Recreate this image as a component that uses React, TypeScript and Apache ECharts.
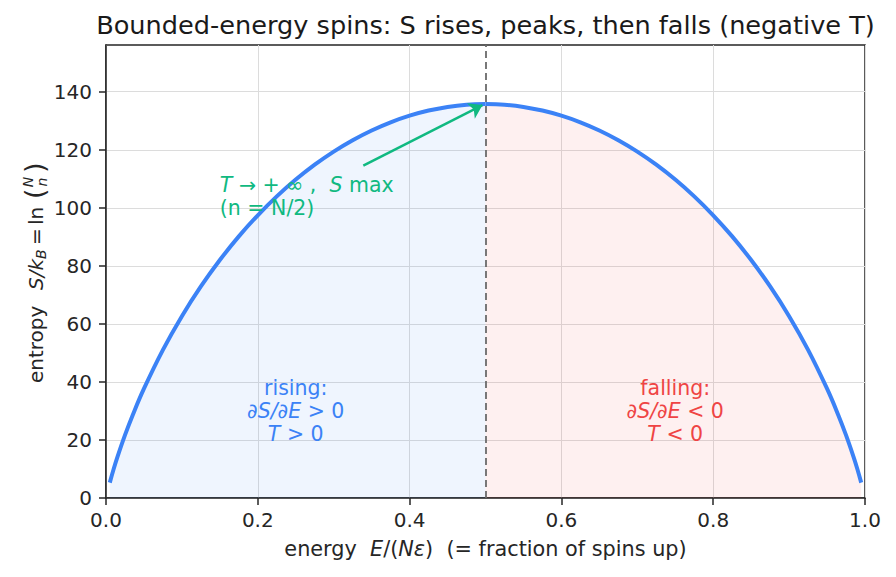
import React, { useEffect, useRef } from "react";
import * as echarts from "echarts";

// energy E/(N eps) = fraction of spins up; entropy S/k_B
const energyLeft = [0.005, 0.01, 0.015, 0.025, 0.035, 0.05, 0.075, 0.1, 0.125, 0.15, 0.175, 0.2, 0.225, 0.25, 0.275, 0.3, 0.325, 0.35, 0.375, 0.4, 0.425, 0.45, 0.475, 0.5];
const entropyLeft = [5.3, 9.9, 14.09, 21.65, 28.46, 37.66, 51.04, 62.65, 72.89, 82.0, 90.15, 97.43, 103.94, 109.74, 114.87, 119.38, 123.3, 126.66, 129.47, 131.75, 133.51, 134.76, 135.51, 135.75];
const energyRight = [0.5, 0.525, 0.55, 0.575, 0.6, 0.625, 0.65, 0.675, 0.7, 0.725, 0.75, 0.775, 0.8, 0.825, 0.85, 0.875, 0.9, 0.925, 0.95, 0.965, 0.975, 0.985, 0.99, 0.995];
const entropyRight = [135.75, 135.51, 134.76, 133.51, 131.75, 129.47, 126.66, 123.3, 119.38, 114.87, 109.74, 103.94, 97.43, 90.15, 82.0, 72.89, 62.65, 51.04, 37.66, 28.46, 21.65, 14.09, 9.9, 5.3];

const xTicks = [0, 0.2, 0.4, 0.6, 0.8, 1.0];
const yTicks = [0, 20, 40, 60, 80, 100, 120, 140];
const yMax = 156.1;
const peakX = 0.5;
const arrowFrom = [0.339, 114.5];
const arrowTo = [0.496, 135.4];

const titleText = "Bounded-energy spins: S rises, peaks, then falls (negative T)";

const FONT = "DejaVu Sans";
const BLUE = "#3b82f6";
const RED = "#ef4444";
const GREEN = "#10b981";
const INK = "#262626";

function richFor(color: string) {
  return {
    n: { fontFamily: FONT, fontSize: 20.5, lineHeight: 23, color, opacity: 1 },
    i: { fontFamily: FONT, fontSize: 20.5, lineHeight: 23, fontStyle: "italic" as const, color, opacity: 1 },
  };
}

export default function App() {
  const ref = useRef<HTMLDivElement>(null);
  useEffect(() => {
    if (!ref.current) return;
    const chart = echarts.init(ref.current, undefined, { renderer: "svg" });
    const left = energyLeft.map((x, i) => [x, entropyLeft[i]]);
    const right = energyRight.map((x, i) => [x, entropyRight[i]]);
    const yl = 36; // middle line (screen x) of rotated y label
    const noteLabel = (color: string, align: string, formatter: string) => ({
      show: true,
      position: "inside",
      align,
      verticalAlign: "middle",
      opacity: 1,
      textBorderWidth: 0,
      formatter,
      rich: richFor(color),
    });
    chart.setOption({
      animation: false,
      backgroundColor: "#ffffff",
      grid: { left: 106, right: 31, top: 45, bottom: 79, show: true, borderColor: INK, borderWidth: 1.5, backgroundColor: "transparent" },
      graphic: [
        {
          type: "text",
          x: 485.5,
          y: 25,
          style: { text: titleText, font: `25.6px '${FONT}'`, fill: "#1a1a1a", align: "center", verticalAlign: "middle" },
        },
        {
          type: "group",
          x: yl,
          y: 383,
          rotation: Math.PI / 2,
          children: [
            { type: "text", x: 0, y: 0, style: { text: "entropy", font: `20px '${FONT}'`, fill: INK, verticalAlign: "middle" } },
            { type: "text", x: 93, y: 0, style: { text: "S/k", font: `italic 20px '${FONT}'`, fill: INK, verticalAlign: "middle" } },
            { type: "text", x: 124, y: 5, style: { text: "B", font: `italic 14px '${FONT}'`, fill: INK, verticalAlign: "middle" } },
            { type: "text", x: 138, y: 0, style: { text: "=", font: `20px '${FONT}'`, fill: INK, verticalAlign: "middle" } },
            { type: "text", x: 158, y: 0, style: { text: "ln", font: `20px '${FONT}'`, fill: INK, verticalAlign: "middle" } },
            { type: "text", x: 184, y: -2, style: { text: "(", font: `27px '${FONT}'`, fill: INK, verticalAlign: "middle" } },
            { type: "text", x: 201, y: -8, style: { text: "N", font: `italic 14px '${FONT}'`, fill: INK, align: "center", verticalAlign: "middle" } },
            { type: "text", x: 201, y: 6, style: { text: "n", font: `italic 14px '${FONT}'`, fill: INK, align: "center", verticalAlign: "middle" } },
            { type: "text", x: 210, y: -2, style: { text: ")", font: `27px '${FONT}'`, fill: INK, verticalAlign: "middle" } },
          ],
        },
      ],
      xAxis: {
        type: "value",
        min: 0,
        max: 1,
        interval: 0.2,
        axisLine: { show: true, lineStyle: { color: INK, width: 1.5 } },
        axisTick: { show: true, length: 7, inside: false, lineStyle: { color: INK, width: 1.5 } },
        splitLine: { show: true, lineStyle: { color: "#dcdcdc", width: 1 } },
        axisLabel: {
          margin: 12,
          fontFamily: FONT,
          fontSize: 20,
          color: INK,
          formatter: (v: number) => (xTicks.some((t) => Math.abs(t - v) < 1e-9) ? v.toFixed(1) : ""),
        },
        name: "{n|energy  }{i|E}{n|/(}{i|Nε}{n|)  (= fraction of spins up)}",
        nameLocation: "middle",
        nameGap: 40,
        nameTextStyle: {
          rich: {
            n: { fontFamily: FONT, fontSize: 20.8, color: INK },
            i: { fontFamily: FONT, fontSize: 20.8, color: INK, fontStyle: "italic" },
          },
        },
      },
      yAxis: {
        type: "value",
        min: 0,
        max: yMax,
        interval: 20,
        axisLine: { show: true, lineStyle: { color: INK, width: 1.5 } },
        axisTick: { show: true, length: 7, inside: false, lineStyle: { color: INK, width: 1.5 }, customValues: yTicks },
        splitLine: { show: true, lineStyle: { color: "#dcdcdc", width: 1 } },
        axisLabel: {
          margin: 14,
          fontFamily: FONT,
          fontSize: 20,
          color: INK,
          customValues: yTicks,
          formatter: (v: number) => String(Math.round(v)),
        },
      },
      series: [
        {
          type: "line",
          data: left,
          showSymbol: false,
          smooth: 0.4,
          lineStyle: { color: BLUE, width: 4 },
          areaStyle: { color: "rgba(59,130,246,0.12)", origin: "start" },
          z: 3,
          markLine: {
            silent: true,
            symbol: ["none", "none"],
            label: { show: false },
            lineStyle: { color: "#6b6b6b", width: 1.8, type: [7, 4] },
            data: [{ xAxis: peakX }],
          },
        },
        {
          type: "line",
          data: right,
          showSymbol: false,
          smooth: 0.4,
          lineStyle: { color: BLUE, width: 4 },
          areaStyle: { color: "rgba(239,68,68,0.12)", origin: "start" },
          z: 3,
        },
        {
          type: "scatter",
          symbolSize: 0,
          silent: true,
          z: 5,
          itemStyle: { opacity: 1 },
          markLine: {
            silent: true,
            symbol: ["none", "arrow"],
            symbolSize: 13,
            label: { show: false },
            lineStyle: { color: GREEN, width: 2.5, type: "solid", opacity: 1 },
            itemStyle: { color: GREEN },
            data: [[{ coord: arrowFrom }, { coord: arrowTo }]],
          },
          data: [
            {
              value: [0.25, 30],
              label: noteLabel(BLUE, "center", "{n|rising:}\n{i|∂S/∂E}{n| > 0}\n{i|T}{n| > 0}"),
            },
            {
              value: [0.75, 30],
              label: noteLabel(RED, "center", "{n|falling:}\n{i|∂S/∂E}{n| < 0}\n{i|T}{n| < 0}"),
            },
            {
              value: [0.15, 104],
              label: noteLabel(GREEN, "left", "{i|T}{n| → + ∞ ,  }{i|S}{n| max}\n{n|(n = N/2)}"),
            },
          ],
        },
      ],
    });
    return () => chart.dispose();
  }, []);
  return <div ref={ref} style={{ width: 896, height: 577, position: "absolute", left: 0, top: 0 }} />;
}
